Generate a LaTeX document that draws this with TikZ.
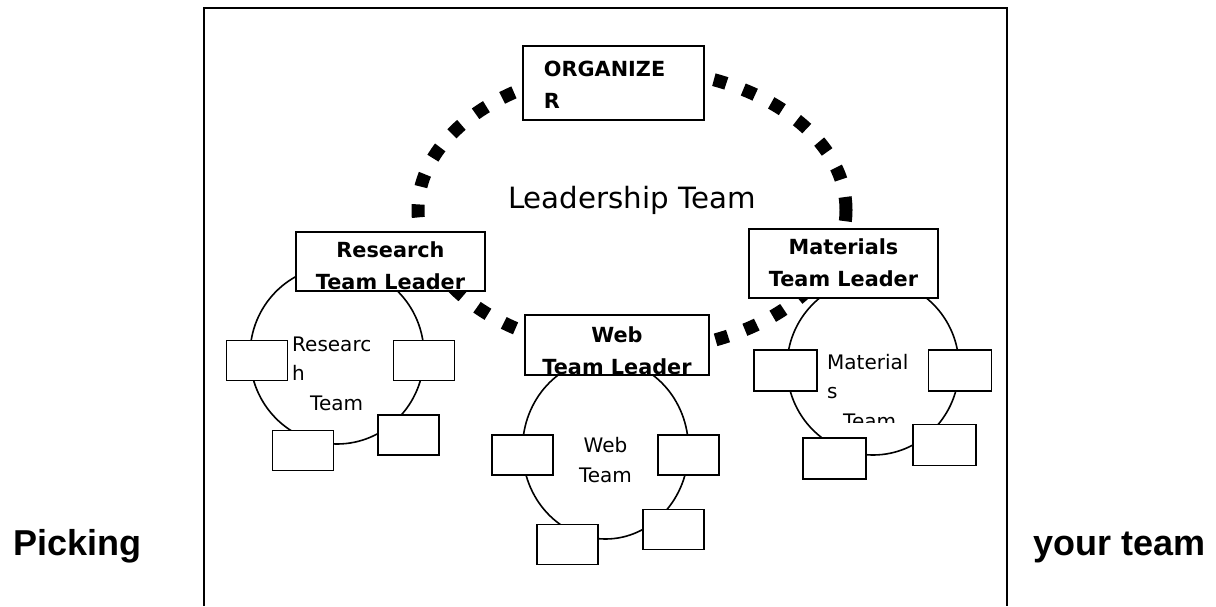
\documentclass[tikz,border=0pt]{standalone}
\usepackage{fontspec}
\setmainfont{DejaVu Sans}
\newfontfamily\sidefont{Liberation Sans}
\usetikzlibrary{shapes.geometric}
\tikzset{
  leadring/.style={ellipse,draw,line width=13pt,dash pattern=on 13pt off 18pt,
    inner sep=0pt},
  teamring/.style={ellipse,draw,line width=1.6pt,inner sep=0pt},
  leader/.style={draw,fill=white,line width=1.8pt,inner sep=0pt},
  member/.style={draw,fill=white,line width=1.8pt,inner sep=0pt,
    minimum width=61pt,minimum height=40pt},
  leadfont/.style={font=\fontsize{20.8}{32}\selectfont\bfseries,align=center,
    inner sep=0pt,minimum width=0pt,minimum height=0pt},
  teamfont/.style={font=\fontsize{20}{29.5}\selectfont,inner sep=0pt},
  sidetext/.style={font=\sidefont\bfseries\fontsize{36}{40}\selectfont,
    inner sep=0pt},
  leadtext/.style 2 args={path picture={
    \node[leadfont,anchor=base] at ([yshift=-#1]path picture bounding box.north) {#2};}}
}

\begin{document}
\begin{tikzpicture}[x=1pt,y=-1pt]
  \useasboundingbox (0,0) rectangle (1216,606);

  % frame
  \draw[line width=1.8pt] (204,606) |- (1007,8) -- (1007,606);

  % leadership ring
  \node[leadring,minimum width=428pt,minimum height=282pt] (leadRing) at (632,210) {};
  \node[font=\fontsize{29.3}{34}\selectfont,anchor=base,inner sep=0pt] (leadLabel)
    at (632,208) {Leadership Team};

  % team rings
  \node[teamring,minimum width=174pt,minimum height=178pt] (resRing) at (337,355) {};
  \node[teamring,minimum width=166pt,minimum height=180pt] (webRing) at (605.5,449) {};
  \node[teamring,minimum width=172pt,minimum height=176pt] (matRing) at (873,367) {};

  % leaders (anchor base = last line)
  \node[leader,minimum width=181pt,minimum height=74pt,
    path picture={\node[leadfont,align=left,anchor=base west]
      at ([xshift=20pt,yshift=-62pt]path picture bounding box.north west)
      {ORGANIZE\\R};}] (organizer) at (613.5,83) {};
  \node[leader,minimum width=189pt,minimum height=59pt,
    leadtext={57pt}{Research\\Team Leader}] (resLead) at (390.5,261.5) {};
  \node[leader,minimum width=189pt,minimum height=69pt,
    leadtext={57pt}{Materials\\Team Leader}] (matLead) at (843.5,263.5) {};
  \node[leader,minimum width=184pt,minimum height=60pt,
    leadtext={59pt}{Web\\Team Leader}] (webLead) at (617,345) {};

  % research team
  \node[member] (res1) at (257,360.5) {};
  \node[member] (res2) at (424,360.5) {};
  \node[member] (res3) at (303,450.5) {};
  \node[member] (res4) at (408.5,435) {};
  \node[teamfont,align=left,anchor=base west] (resLabel) at (292,410)
    {Researc\\h\\\hspace*{18pt}Team};

  % web team
  \node[member] (web1) at (522.5,455) {};
  \node[member] (web2) at (688.5,455) {};
  \node[member] (web3) at (567.5,544.5) {};
  \node[member] (web4) at (673.5,529.5) {};
  \node[teamfont,align=center,anchor=base] (webLabel) at (605.5,482)
    {Web\\Team};

  % materials team
  \node[member,minimum width=63pt,minimum height=41pt] (mat1) at (785.5,370.5) {};
  \node[member,minimum width=63pt,minimum height=41pt] (mat2) at (960,370.5) {};
  \node[member,minimum width=63pt,minimum height=41pt] (mat3) at (834.5,458.5) {};
  \node[member,minimum width=63pt,minimum height=41pt] (mat4) at (944.5,445) {};
  \begin{scope}
    \clip (820,330) rectangle (920,422);
    \node[teamfont,align=left,anchor=base west] (matLabel) at (827,428)
      {Material\\s\\\hspace*{16pt}Team};
  \end{scope}

  % side words
  \node[sidetext,anchor=base west] (picking) at (13,555) {Picking};
  \node[sidetext,anchor=base west] (yourTeam) at (1033,555) {your team};
\end{tikzpicture}
\end{document}
